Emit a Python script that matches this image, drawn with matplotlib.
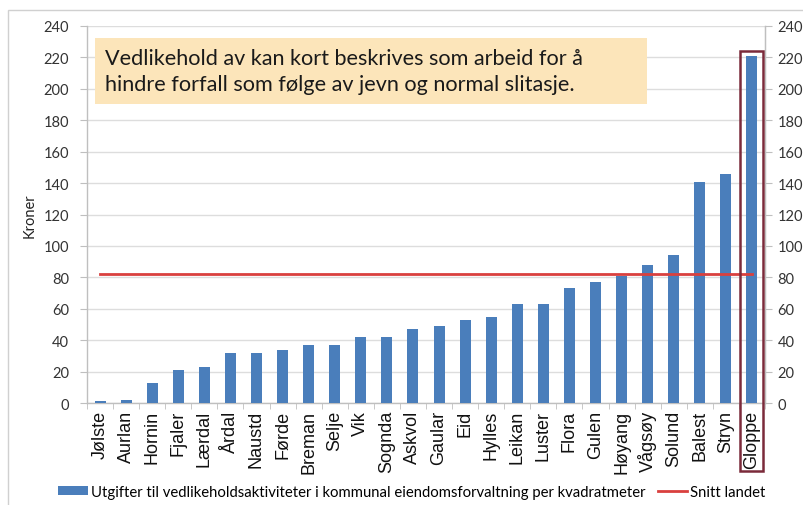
import matplotlib
matplotlib.use("Agg")
import matplotlib.pyplot as plt
from matplotlib.patches import Rectangle, Patch
from matplotlib.lines import Line2D
import numpy as np

kommuner = ["Jølste", "Aurlan", "Hornin", "Fjaler", "Lærdal", "Årdal", "Naustd",
            "Førde", "Breman", "Selje", "Vik", "Sognda", "Askvol", "Gaular", "Eid",
            "Hylles", "Leikan", "Luster", "Flora", "Gulen", "Høyang", "Vågsøy",
            "Solund", "Balest", "Stryn", "Gloppe"]
kroner = [1, 2, 13, 21, 23, 32, 32, 34, 37, 37, 42, 42, 47, 49, 53, 55, 63, 63,
          73, 77, 81, 88, 94, 141, 146, 221]
snitt_landet = 82
yticks = list(range(0, 241, 20))
merket = "Gloppe"

tekst = ("Vedlikehold av kan kort beskrives som arbeid for å\n"
         "hindre forfall som følge av jevn og normal slitasje.")
serie_bar = "Utgifter til vedlikeholdsaktiviteter i kommunal eiendomsforvaltning per kvadratmeter"
serie_linje = "Snitt landet"

BLUE = "#4A7EBB"
RED = "#D9403E"
MAROON = "#7B2A3A"
GRID = "#DDDDDD"
SPINE = "#BFBFBF"
UI_FONT = ["Lato", "DejaVu Sans"]

W, H = 804, 506
fig = plt.figure(figsize=(W / 100, H / 100), dpi=100)

# outer chart frame (left and top edges visible)
fig.add_artist(Rectangle((8 / W, -0.1), 1.2, 1.1 - 11 / H, transform=fig.transFigure,
                         fill=False, edgecolor="#D0D0D0", linewidth=1.0))

ax = fig.add_axes([87 / W, 1 - 404 / H, (765 - 87) / W, (404 - 27) / H])
x = np.arange(len(kommuner))

ax.bar(x, kroner, width=0.42, color=BLUE, zorder=3)
ax.plot(x, [snitt_landet] * len(x), color=RED, linewidth=2.0, zorder=4)

ax.set_xlim(-0.5, len(kommuner) - 0.5)
ax.set_ylim(0, 240)
ax.set_yticks(yticks)
ax.set_yticklabels([str(v) for v in yticks], family=UI_FONT, fontsize=10.5, color="#333333")
ax.grid(axis="y", color=GRID, linewidth=1.0, zorder=0)

ax.set_xticks(x)
ax.set_xticklabels(kommuner, rotation=90, family=["Liberation Sans", "DejaVu Sans"],
                   fontsize=13, color="#111111")
ax.set_xticks(np.arange(-0.5, len(kommuner), 1), minor=True)
ax.tick_params(axis="x", which="major", length=0, pad=5)
ax.tick_params(axis="x", which="minor", length=4, color=SPINE, direction="out")
ax.tick_params(axis="y", length=5, color=SPINE, direction="out", pad=8)

ax.spines["top"].set_visible(False)
for side in ("left", "right", "bottom"):
    ax.spines[side].set_color(SPINE)
    ax.spines[side].set_linewidth(1.0)

ax.set_ylabel("Kroner", family=UI_FONT, fontsize=10.5, color="#222222", labelpad=5)

ax2 = ax.twinx()
ax2.set_ylim(0, 240)
ax2.set_yticks(yticks)
ax2.set_yticklabels([str(v) for v in yticks], family=UI_FONT, fontsize=10.5, color="#333333")
ax2.tick_params(axis="y", length=5, color=SPINE, direction="out", pad=4)
for side in ("top", "left", "bottom"):
    ax2.spines[side].set_visible(False)
ax2.spines["right"].set_color(SPINE)

# highlight frame around the largest value
i = kommuner.index(merket)
ax.add_patch(Rectangle((i - 0.46, -43), 0.9, 267, fill=False, edgecolor=MAROON,
                       linewidth=1.8, clip_on=False, zorder=5))

# definition text box
fig.add_artist(Rectangle((95 / W, 1 - 105 / H), (647 - 95) / W, (105 - 39) / H,
                         transform=fig.transFigure, facecolor="#FCE5BA", edgecolor="none",
                         zorder=6))
fig.text(105 / W, 1 - 72 / H, tekst, family=UI_FONT, fontsize=15.6, color="#1a1a1a",
         va="center", ha="left", linespacing=1.32, zorder=7)

handles = [Patch(facecolor=BLUE, edgecolor="none"),
           Line2D([0], [0], color=RED, linewidth=2.0)]
fig.legend(handles, [serie_bar, serie_linje], loc="center", bbox_to_anchor=(412 / W, 1 - 493 / H),
           ncol=2, frameon=False, prop={"family": UI_FONT, "size": 10.7},
           handlelength=2.0, handleheight=0.6, handletextpad=0.2, columnspacing=0.8)

fig.savefig("out.png", dpi=100)
